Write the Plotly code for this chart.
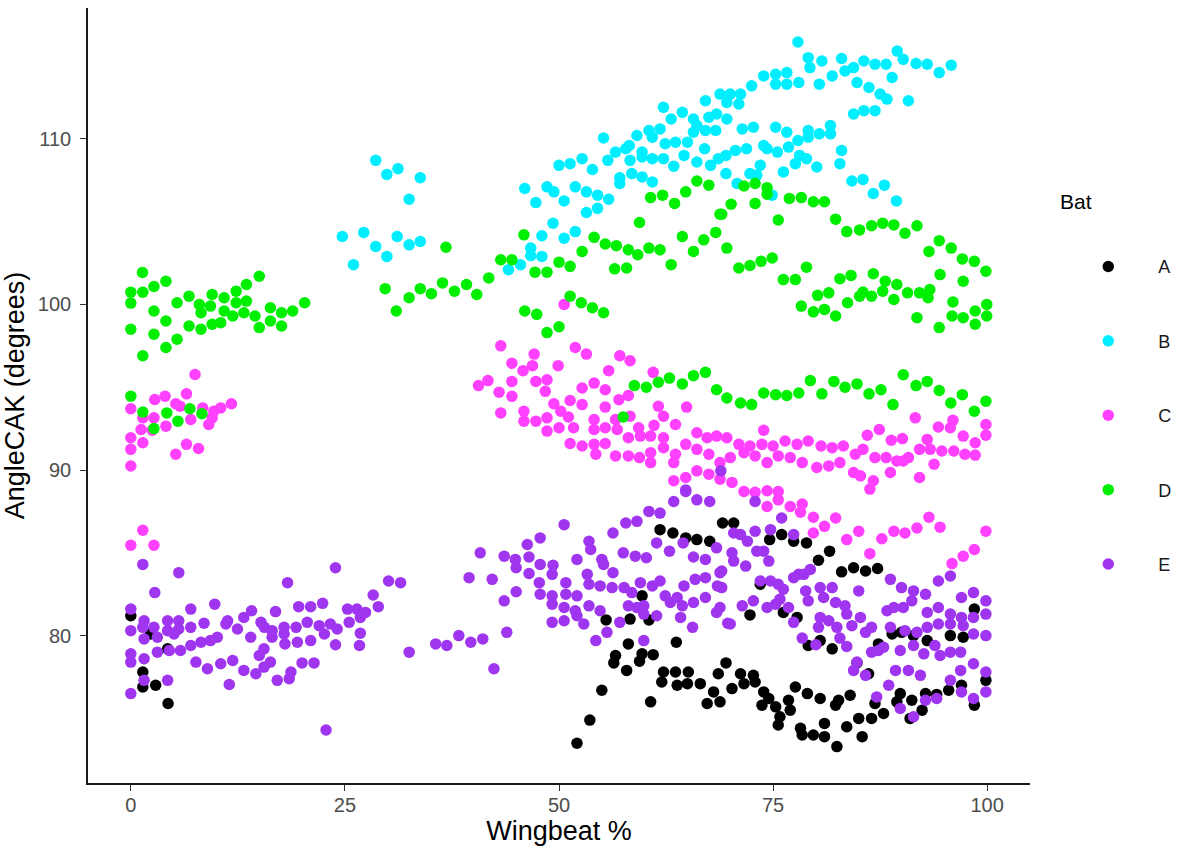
import plotly.graph_objects as go

# ---------------- data (Wingbeat %, AngleCAK degrees) ----------------
bat_a = [(0, 81.2), (1.4, 77.8), (1.4, 76.9), (2.9, 77.0), (4.35, 75.9), (4.3, 79.2), (2.3, 80.1),
         (52.1, 73.5), (53.6, 74.9), (55.0, 76.7), (55.5, 80.95), (56.4, 78.35), (56.6, 78.8), (57.9, 77.9),
         (58.1, 79.5), (58.3, 81.0), (59.4, 78.45), (59.7, 78.9), (59.7, 82.4), (60.5, 80.95), (60.7, 76.0),
         (61.0, 78.85), (61.8, 86.4), (62.0, 77.2), (62.2, 77.8), (63.3, 86.2), (63.6, 77.8), (63.7, 79.6),
         (63.8, 77.0), (64.8, 85.9), (65.0, 77.1), (65.1, 77.8), (66.1, 85.8), (66.5, 77.1), (67.3, 75.9),
         (67.6, 85.7), (68.05, 76.6), (68.6, 77.7), (68.8, 76.0), (69.1, 86.8), (69.5, 78.35),
         (70.4, 86.8), (74.6, 85.8), (76.0, 86.1), (77.4, 85.7), (78.9, 85.6), (80.3, 84.55), (81.6, 85.1),
         (83.0, 83.85), (84.4, 84.1), (85.8, 83.9), (87.2, 84.05), (73.5, 83.1), (72.3, 81.25), (76.2, 81.4),
         (77.8, 81.1), (79.1, 79.4), (80.5, 79.7), (81.9, 79.2), (86.15, 77.7), (71.2, 77.7), (72.7, 77.6),
         (72.9, 77.2), (71.6, 77.1), (70.2, 76.8), (73.9, 76.6), (74.5, 76.2), (73.7, 75.8), (75.3, 75.7),
         (76.8, 76.1), (77.0, 75.5), (75.8, 75.1), (75.6, 74.6), (77.6, 76.9), (79.0, 76.5), (78.2, 74.4),
         (78.4, 74.0), (79.7, 74.0), (81.0, 73.9), (81.0, 74.7), (82.45, 73.3), (80.5, 76.2), (82.3, 75.8),
         (82.65, 76.1), (83.6, 74.5), (84.0, 76.4), (85.4, 73.9), (85.0, 75.0), (86.5, 75.0), (87.9, 75.3),
         (86.9, 75.9), (89.85, 76.5), (91.2, 76.1), (92.4, 75.5), (91.0, 75.0), (89.45, 76.0), (92.8, 76.5),
         (94.1, 76.45), (95.5, 76.7), (97.0, 77.0), (98.5, 75.8), (99.85, 77.3), (98.5, 81.6), (97.2, 79.9),
         (95.7, 80.0), (93.0, 79.7), (91.4, 80.0), (90.0, 80.2), (88.9, 80.1), (87.3, 79.5), (84.8, 78.35)]

bat_b = [(28.6, 108.7), (29.9, 107.85), (31.2, 108.2), (33.8, 107.65), (32.5, 106.35), (24.7, 104.1),
         (27.2, 104.35), (28.6, 103.5), (29.9, 102.9), (26.0, 102.4), (31.1, 104.1), (32.5, 103.6), (33.8, 103.8),
         (46.0, 107.0), (47.3, 106.15), (45.5, 102.4), (44.1, 102.1), (46.7, 103.4), (46.7, 102.95),
         (68.8, 112.7), (69.6, 112.2), (67.1, 112.3), (62.2, 111.9), (64.4, 111.6), (63.1, 111.2), (65.7, 111.2),
         (67.5, 111.3), (68.4, 111.5), (69.6, 111.2), (66.1, 110.8), (65.7, 110.4), (67.1, 110.5), (68.3, 110.5),
         (60.5, 110.5), (61.8, 110.6), (59.1, 110.2), (60.9, 110.1), (55.2, 110.05), (58.2, 109.6), (57.8, 109.4),
         (56.6, 109.2), (62.4, 109.7), (63.6, 109.8), (65.0, 109.8), (67.0, 109.4), (59.7, 109.2), (59.7, 108.9),
         (58.3, 108.7), (55.7, 108.7), (60.9, 108.8), (62.2, 108.8), (64.6, 109.0), (66.1, 108.6), (63.4, 108.35),
         (67.7, 108.4), (68.6, 108.8), (69.5, 109.0), (69.5, 107.9), (52.7, 108.8), (51.3, 108.5), (50.0, 108.4),
         (53.9, 108.15), (58.5, 107.9), (59.7, 107.7), (60.9, 107.4), (57.1, 107.65), (57.1, 107.3),
         (48.6, 107.1), (49.4, 106.8), (51.9, 107.1), (53.2, 106.8), (54.5, 106.6), (55.8, 106.35), (50.6, 106.25),
         (54.5, 105.8), (53.2, 105.55), (49.3, 104.9), (48.0, 104.15), (50.6, 104.0), (51.9, 104.4), (48.0, 102.9),
         (77.9, 115.85), (79.1, 114.9), (79.3, 114.3), (80.7, 114.7), (83.0, 114.85), (83.4, 114.1), (84.4, 114.3),
         (85.6, 114.7), (86.9, 114.5), (88.2, 114.5), (89.5, 115.3), (90.2, 114.8), (91.7, 114.55), (93.0, 114.5),
         (94.4, 114.0), (95.8, 114.45), (88.9, 113.7), (84.8, 113.4), (86.2, 113.1), (87.5, 112.7), (88.3, 112.4),
         (90.8, 112.3), (81.9, 113.8), (80.4, 113.3), (78.0, 113.4), (76.6, 114.0), (76.6, 113.3), (75.3, 113.9),
         (75.3, 113.3), (73.9, 113.8), (72.5, 113.2), (71.2, 112.7), (70.0, 112.7), (71.0, 112.1), (84.4, 111.5),
         (85.6, 111.7), (86.9, 111.7), (71.4, 110.6), (72.7, 110.7), (75.3, 110.7), (76.6, 110.4), (79.1, 110.5),
         (79.1, 110.1), (80.4, 110.3), (81.7, 110.8), (81.7, 110.3), (77.9, 109.9), (73.9, 109.6), (74.3, 109.4),
         (71.9, 109.4), (70.6, 109.3), (75.5, 109.2), (76.8, 109.5), (83.0, 109.3), (78.1, 109.0), (78.9, 108.8),
         (77.6, 108.5), (73.5, 108.4), (72.3, 107.9), (73.1, 107.8), (76.2, 108.0), (80.1, 108.3), (82.8, 108.5),
         (70.8, 107.3), (84.2, 107.45), (85.5, 107.55), (88.0, 107.2), (86.7, 106.7), (89.4, 106.25), (74.9, 106.6)]

bat_c = [(7.5, 95.77), (0, 93.7), (2.8, 94.26), (4.0, 94.46), (5.25, 94.0), (6.5, 94.6), (5.75, 93.85),
         (8.4, 93.75), (9.7, 93.55), (10.5, 93.75), (11.75, 94.0), (1.4, 93.15), (2.7, 93.15), (7.0, 93.05),
         (9.5, 93.15), (1.2, 92.45), (2.5, 92.4), (4.1, 92.65), (9.1, 92.75), (0, 91.95), (1.4, 91.65),
         (0, 91.25), (6.5, 91.55), (7.9, 91.3), (5.25, 90.95), (0, 90.24), (1.4, 86.36), (0, 85.46), (2.7, 85.46),
         (50.6, 100.0), (43.2, 97.5), (47.1, 97.0), (51.9, 97.4), (53.2, 97.0), (57.1, 96.9), (58.3, 96.6),
         (44.5, 96.45), (49.9, 96.3), (46.9, 96.3), (45.8, 96.0), (55.8, 96.0), (61.0, 95.9), (41.7, 95.4),
         (40.6, 95.1), (44.5, 95.35), (47.3, 95.35), (48.6, 95.45), (43.0, 94.7), (44.5, 94.45), (48.4, 94.75),
         (52.7, 94.95), (54.1, 95.25), (55.4, 94.85), (58.1, 94.5), (57.0, 94.25), (43.2, 93.45), (45.9, 93.55),
         (49.4, 94.0), (51.3, 94.2), (52.7, 93.95), (50.2, 93.55), (55.4, 93.8), (61.6, 93.85), (64.9, 93.8),
         (45.9, 92.95), (47.3, 92.95), (48.6, 93.15), (51.1, 93.2), (54.1, 93.05), (56.6, 93.05), (58.3, 93.25),
         (62.2, 93.25), (48.6, 92.35), (50.0, 92.55), (51.7, 92.55), (54.1, 92.45), (55.4, 92.55), (56.8, 92.45),
         (59.3, 92.55), (61.1, 92.7), (63.6, 92.75), (51.3, 91.6), (52.7, 91.45), (54.1, 91.55), (55.4, 91.6),
         (54.3, 90.95), (56.6, 90.85), (58.1, 90.85), (58.1, 91.95), (59.5, 92.05), (60.7, 92.05), (59.4, 90.75),
         (60.7, 91.05), (60.7, 90.45), (62.2, 91.95), (62.2, 91.35), (63.6, 90.95), (64.8, 91.55), (66.1, 92.25),
         (66.1, 91.25), (67.3, 91.95), (68.4, 92.05), (69.6, 91.95), (67.5, 90.95), (68.8, 90.45), (63.4, 90.45),
         (63.4, 89.35), (64.8, 89.55), (66.1, 89.95), (67.5, 89.75), (68.8, 89.45),
         (91.6, 93.15), (94.3, 92.6), (96.0, 93.0), (95.7, 92.55), (99.85, 92.75), (99.85, 92.1), (87.4, 92.45),
         (86.0, 92.1), (88.8, 91.8), (90.1, 91.9), (93.0, 91.85), (97.2, 92.05), (98.6, 91.65), (98.6, 90.9),
         (96.1, 91.15), (94.7, 91.15), (93.35, 91.25), (92.1, 91.25), (90.8, 90.75), (89.45, 90.55), (88.2, 90.75),
         (86.9, 90.75), (85.5, 91.25), (84.6, 90.95), (83.2, 91.45), (81.9, 91.35), (80.6, 91.45), (79.1, 91.75),
         (77.8, 91.55), (76.4, 91.75), (75.0, 91.45), (73.9, 92.4), (73.7, 91.55), (72.3, 91.45), (71.0, 91.55),
         (70.0, 90.75), (71.6, 91.05), (72.9, 90.85), (74.3, 90.45), (75.6, 90.85), (77.0, 90.75), (78.4, 90.45),
         (80.1, 90.15), (81.5, 90.25), (82.8, 90.45), (84.4, 89.85), (85.2, 89.65), (88.7, 89.85), (90.2, 90.55),
         (92.1, 89.55), (93.8, 90.35), (97.4, 90.95), (86.7, 89.35), (86.3, 88.85), (70.2, 89.25), (71.6, 88.7),
         (72.9, 88.65), (74.3, 88.75), (75.6, 88.7), (74.3, 87.8), (75.6, 88.2), (77.0, 87.8), (78.4, 87.95),
         (78.2, 87.45), (79.7, 87.15), (81.0, 86.6), (82.3, 87.1), (79.7, 86.2), (83.6, 85.8), (85.0, 86.3),
         (86.3, 84.95), (87.7, 85.85), (89.1, 86.3), (90.4, 86.2), (91.8, 86.5), (93.2, 87.15), (94.5, 86.55),
         (95.9, 84.35), (97.2, 84.8), (98.5, 85.2), (99.85, 86.3)]

bat_d = [(1.36, 101.93), (0, 100.74), (1.4, 100.74), (2.7, 101.08), (4.1, 101.4), (0, 100.08), (0, 98.5),
         (1.4, 96.9), (2.7, 99.6), (2.7, 98.2), (4.1, 99.0), (4.1, 97.4), (5.4, 100.1), (5.4, 97.9), (6.8, 100.5),
         (6.8, 98.7), (8.0, 100.0), (8.2, 99.5), (8.2, 98.5), (9.5, 100.6), (9.3, 99.9), (9.5, 98.8), (10.5, 98.9),
         (10.9, 100.4), (10.9, 99.6), (12.3, 100.8), (12.3, 100.1), (11.9, 99.3), (13.2, 99.5), (13.5, 101.2),
         (13.5, 100.2), (15.0, 101.7), (14.5, 99.3), (15.0, 98.6), (16.3, 99.8), (16.3, 99.0), (17.6, 99.5),
         (17.6, 98.7), (18.9, 99.6), (20.3, 100.1),
         (0, 94.46), (1.4, 93.5), (2.7, 92.5), (4.2, 93.45), (5.5, 92.95), (6.9, 93.7), (8.3, 93.4),
         (29.7, 100.95), (31.0, 99.6), (32.5, 100.4), (33.8, 100.95), (35.1, 100.65), (36.4, 101.3), (37.8, 100.8),
         (39.2, 101.2), (40.4, 100.6), (41.8, 101.6), (43.2, 102.7), (44.5, 102.7), (45.9, 104.2), (36.8, 103.45),
         (47.2, 101.95), (48.6, 101.95), (50.0, 102.55), (51.3, 102.3), (52.7, 103.2), (54.1, 104.05),
         (55.4, 103.65), (56.7, 103.55), (58.1, 103.3), (59.2, 103.0), (60.5, 103.4), (61.8, 103.3), (63.1, 102.4),
         (56.5, 102.15), (57.9, 102.2), (64.4, 104.1), (65.7, 103.2), (66.9, 103.9), (68.3, 104.35), (69.6, 103.4),
         (68.8, 105.45), (70.1, 106.05), (59.4, 104.95), (60.7, 106.45), (62.1, 106.6), (63.5, 106.1), (64.8, 106.8),
         (66.1, 107.45), (67.5, 107.2),
         (51.3, 100.5), (52.6, 100.1), (53.9, 99.8), (55.2, 99.5), (46.0, 99.6), (47.4, 99.4), (48.6, 98.3),
         (50.0, 98.65),
         (58.8, 95.1), (60.2, 95.0), (61.6, 95.3), (62.9, 95.55), (64.4, 95.2), (65.7, 95.7), (67.1, 95.9),
         (68.4, 94.85), (69.6, 94.35), (57.5, 93.2),
         (71.6, 107.15), (72.9, 107.3), (74.3, 107.05), (74.3, 106.65), (72.9, 106.1), (69.0, 105.45),
         (76.9, 106.4), (78.3, 106.45), (79.7, 106.2), (81.0, 106.2), (75.6, 105.1), (82.3, 105.15), (83.6, 104.4),
         (85.1, 104.5), (86.5, 104.75), (87.8, 104.9), (89.1, 104.8), (90.4, 104.3), (91.8, 104.75), (93.2, 103.2),
         (94.4, 103.85), (95.8, 103.4), (97.1, 102.75), (98.5, 102.6), (99.85, 102.0), (94.5, 101.8), (97.2, 101.4),
         (71.0, 102.2), (72.3, 102.35), (73.6, 102.6), (74.9, 102.8), (78.9, 102.25), (76.2, 101.5), (77.6, 101.5),
         (82.8, 101.55), (84.1, 101.75), (86.7, 101.85), (88.1, 101.4), (89.45, 101.2),
         (78.3, 99.9), (79.7, 99.55), (81.0, 99.7), (82.3, 99.3), (80.2, 100.55), (81.5, 100.7), (83.7, 100.1),
         (85.1, 100.5), (85.5, 100.75), (86.5, 100.5), (87.8, 100.8), (89.1, 100.3), (90.7, 100.7), (92.1, 100.7),
         (93.1, 100.4), (93.3, 100.9), (91.8, 99.2), (94.4, 98.6), (96.0, 100.15), (95.9, 99.3), (97.2, 99.2),
         (98.6, 99.6), (98.6, 98.8), (99.95, 100.0), (99.95, 99.3),
         (71.2, 94.05), (72.5, 93.95), (73.9, 94.65), (75.3, 94.55), (76.6, 94.5), (78.0, 94.65), (79.35, 95.4),
         (80.7, 94.6), (82.1, 95.35), (83.4, 95.0), (84.8, 95.2), (86.2, 94.6), (87.6, 94.85), (89.0, 93.95),
         (90.2, 95.75), (91.7, 95.1), (93.0, 95.35), (94.4, 94.8), (95.75, 94.05), (97.1, 94.55), (98.5, 93.55),
         (99.85, 94.15)]

bat_e = [(1.4, 84.3), (5.6, 83.8), (2.8, 82.6), (0, 81.6), (7.0, 81.6), (9.8, 81.9), (23.9, 84.1), (18.3, 83.2),
         (30.1, 83.3), (31.5, 83.2), (28.3, 82.45), (28.9, 81.75), (19.6, 81.75), (21.0, 81.75), (22.4, 81.95),
         (25.3, 81.6), (26.4, 81.6), (27.4, 81.4), (16.9, 81.45), (14.1, 81.5), (13.2, 81.1), (11.3, 80.9),
         (8.55, 80.75), (4.3, 80.9), (5.6, 80.9), (1.55, 80.9), (0, 80.3), (1.4, 80.5), (2.7, 80.5), (4.3, 80.3),
         (5.6, 80.4), (7.0, 80.5), (1.55, 79.8), (3.1, 79.9), (5.05, 80.1), (15.2, 80.8), (15.6, 80.5), (16.5, 80.3),
         (17.9, 80.5), (19.3, 80.5), (20.6, 80.8), (22.0, 80.6), (23.3, 80.7), (24.1, 80.4), (25.5, 80.8),
         (26.8, 81.1), (26.8, 80.15), (22.6, 80.1), (17.9, 80.1), (16.5, 79.9), (19.45, 79.6), (21.0, 79.7),
         (23.9, 79.45), (26.7, 79.4), (18.0, 79.5), (14.0, 79.9), (12.45, 80.4), (11.1, 80.7), (10.1, 79.9),
         (9.3, 79.7), (8.2, 79.6), (7.0, 79.4), (5.8, 79.1), (4.5, 79.1), (3.1, 79.0), (0, 78.9), (0, 78.4),
         (1.55, 78.6), (7.6, 78.4), (8.95, 78.0), (10.5, 78.3), (11.9, 78.5), (13.2, 77.9), (14.6, 77.7), (15.0, 78.8),
         (15.55, 79.2), (16.3, 78.4), (15.55, 78.1), (17.1, 77.3), (18.7, 77.8), (18.5, 77.4), (20.0, 78.35),
         (21.4, 78.35), (11.5, 77.05), (4.3, 77.3), (0, 76.5), (1.55, 77.3), (22.8, 74.3), (32.5, 79.0),
         (35.6, 79.5), (36.9, 79.4), (38.3, 80.0), (39.7, 79.6), (41.1, 79.8), (43.9, 80.2), (42.4, 78.0),
         (50.6, 86.7), (47.8, 85.9), (46.3, 85.5), (40.8, 85.0), (43.6, 84.8), (44.9, 84.6), (46.5, 84.75), (45.0, 84.1),
         (47.8, 84.3), (49.3, 84.25), (49.2, 83.7), (46.5, 83.75), (39.5, 83.5), (42.2, 83.4), (47.7, 83.2),
         (47.8, 82.5), (45.0, 82.65), (43.6, 82.1), (49.2, 82.4), (49.2, 81.9), (50.8, 83.2), (50.8, 82.5), (52.1, 82.4),
         (53.5, 85.7), (53.7, 85.2), (52.1, 84.6), (55.0, 84.6), (55.2, 84.3), (56.3, 86.2), (57.8, 86.8), (59.1, 86.9),
         (60.5, 87.5), (61.8, 87.4), (63.4, 88.1), (64.8, 88.7), (66.1, 88.2), (67.6, 88.1), (57.5, 85.0), (58.9, 84.8),
         (60.2, 84.7), (53.3, 83.7), (53.5, 83.1), (56.3, 83.8), (54.8, 83.0), (56.2, 82.9), (57.6, 82.9), (58.5, 82.6),
         (59.5, 83.2), (60.9, 83.0), (61.8, 83.3), (61.4, 85.6), (62.9, 85.1), (64.5, 85.6), (65.7, 84.75), (67.1, 84.6),
         (68.4, 85.3), (68.8, 83.8), (68.5, 83.0), (64.6, 83.0), (65.9, 83.4), (67.1, 83.5), (62.4, 82.4), (63.8, 82.3),
         (63.0, 82.0), (64.4, 81.8), (65.7, 82.0), (67.1, 82.3), (68.4, 81.4), (64.2, 81.1), (61.4, 81.2), (59.9, 81.3),
         (59.9, 81.8), (58.1, 81.8), (59.1, 81.7), (54.8, 81.5), (53.5, 81.8), (51.9, 81.5), (50.6, 81.7), (50.6, 80.9),
         (52.1, 81.2), (49.2, 80.8), (52.9, 80.7), (57.1, 80.8), (55.6, 80.2), (54.3, 79.7), (59.9, 79.7), (65.6, 80.5),
         (69.7, 80.75), (68.9, 89.95), (64.8, 88.8), (72.9, 88.1), (76.0, 87.1),
         (70.4, 86.2), (71.2, 86.1), (72.0, 85.7), (72.9, 86.3), (74.7, 86.4), (77.4, 86.1), (73.1, 85.1), (73.9, 85.1),
         (70.2, 85.0), (70.4, 84.5), (71.8, 84.2), (74.5, 84.5), (69.0, 83.9), (69.0, 82.9), (74.7, 83.3), (75.6, 83.1),
         (76.2, 82.8), (77.4, 83.5), (78.6, 83.7), (79.35, 84.0), (78.0, 83.7), (72.7, 82.1), (71.4, 81.8), (74.3, 81.7),
         (75.3, 81.9), (75.8, 82.2), (76.8, 81.7), (77.4, 80.8), (70.0, 80.7), (78.8, 82.7), (79.1, 82.1), (80.5, 82.9),
         (80.9, 82.3), (81.9, 82.9), (82.3, 82.0), (83.4, 81.8), (85.0, 82.7), (83.6, 81.3), (80.5, 81.1), (81.5, 80.9),
         (82.45, 80.5), (80.3, 80.5), (78.4, 79.85), (80.0, 79.45), (82.8, 79.85), (83.6, 79.35), (84.2, 80.6),
         (85.2, 81.1), (85.8, 80.2), (86.5, 80.5), (86.5, 79.0), (87.9, 79.3), (88.3, 81.5), (88.7, 83.4), (90.0, 82.9),
         (89.1, 81.7), (90.2, 81.7), (91.4, 82.7), (91.2, 82.1), (92.8, 82.5), (93.0, 81.4), (94.3, 83.3), (95.7, 83.6),
         (94.3, 81.7), (95.7, 81.3), (97.0, 82.3), (98.4, 82.6), (97.0, 81.1), (98.4, 81.1), (99.85, 82.1), (99.85, 81.3),
         (99.85, 80.0), (98.4, 80.1), (97.2, 80.6), (95.7, 80.7), (94.3, 80.7), (93.0, 80.5), (91.8, 80.2), (90.4, 80.3),
         (88.7, 80.5), (87.3, 79.1), (89.85, 79.1), (91.4, 79.4), (92.6, 78.9), (93.9, 79.4), (94.5, 78.8), (95.7, 79.0),
         (96.9, 79.0), (98.4, 78.3), (99.85, 77.8), (99.85, 76.6), (98.4, 76.2), (97.0, 76.6), (96.9, 77.9), (95.7, 77.3),
         (94.1, 76.2), (92.8, 76.1), (91.4, 75.1), (89.85, 75.6), (88.5, 77.0), (87.1, 76.3), (89.3, 77.9), (90.8, 77.9),
         (92.2, 77.6), (85.8, 77.6), (84.4, 77.9), (84.8, 78.4), (68.8, 81.7), (73.5, 83.3)]

bat_names = ["A", "B", "C", "D", "E"]
bat_colors = ["#000000", "#00EEFF", "#FF40FF", "#00EE00", "#A035F0"]
bat_data = [bat_a, bat_b, bat_c, bat_d, bat_e]

x_ticks = [0, 25, 50, 75, 100]
y_ticks = [80, 90, 100, 110]

FONT = "Liberation Sans, Arial, sans-serif"

fig = go.Figure()
for name, color, pts in zip(bat_names, bat_colors, bat_data):
    fig.add_trace(go.Scatter(
        x=[p[0] for p in pts], y=[p[1] for p in pts],
        mode="markers", name=name, legendgroup=name,
        marker=dict(color=color, size=11.5, line=dict(width=0)),
    ))

axis_common = dict(
    showgrid=False, zeroline=False, showline=True, linecolor="#1A1A1A", linewidth=1.7,
    ticks="outside", ticklen=6, tickwidth=1.4, tickcolor="#333333",
    tickfont=dict(family=FONT, size=20, color="#4D4D4D"),
    automargin=False,
)

fig.update_layout(
    width=1180, height=850,
    margin=dict(l=88, r=150, t=8, b=67, autoexpand=False),
    plot_bgcolor="white", paper_bgcolor="white",
    font=dict(family=FONT, color="black"),
    xaxis=dict(range=[-5, 105], tickvals=x_ticks, ticktext=[str(v) for v in x_ticks],
               ticklabelstandoff=-3,
               title=dict(text="Wingbeat %", font=dict(family=FONT, size=27, color="black"), standoff=6),
               **axis_common),
    yaxis=dict(range=[71.1, 117.9], tickvals=y_ticks, ticktext=[str(v) for v in y_ticks],
               ticklabelstandoff=5,
               title=dict(text="AngleCAK (degrees)", font=dict(family=FONT, size=27, color="black"), standoff=5),
               **axis_common),
    legend=dict(
        x=1.030, xanchor="left", y=0.69, yanchor="top",
        font=dict(family=FONT, size=18, color="#1A1A1A"),
        tracegroupgap=48, itemwidth=90,
        bgcolor="rgba(0,0,0,0)",
    ),
    annotations=[dict(text="Bat", x=1.030, xref="paper", y=0.7497, yref="paper",
                      xanchor="left", yanchor="middle", showarrow=False,
                      font=dict(family=FONT, size=21, color="black"))],
)

fig.write_html("out.html")
